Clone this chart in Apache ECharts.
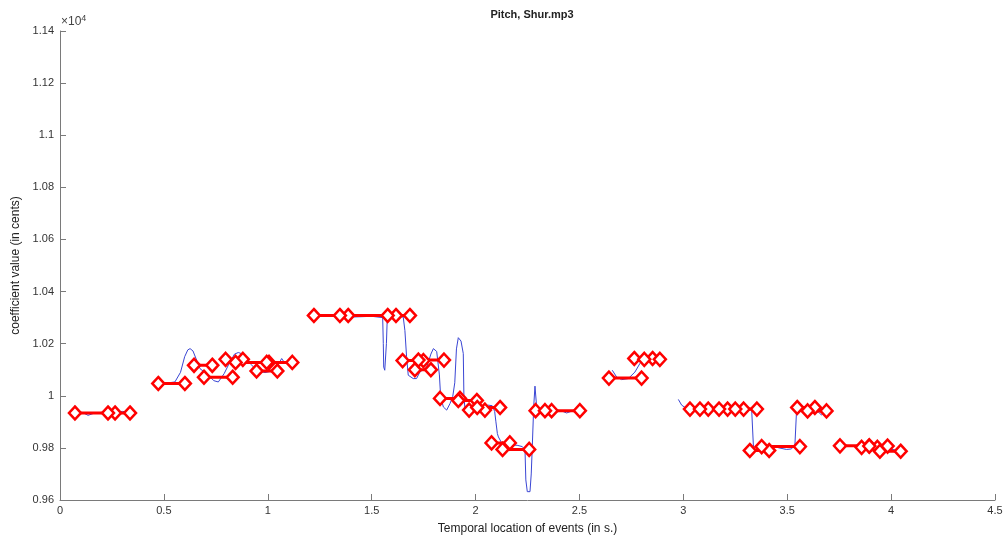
<!DOCTYPE html>
<html>
<head>
<meta charset="utf-8">
<script src="https://cdn.jsdelivr.net/npm/echarts@6/dist/echarts.min.js"></script>
<style>
  html, body { margin: 0; padding: 0; background: #fff; }
  #chart { width: 1008px; height: 540px; }
</style>
</head>
<body>
<div id="chart"></div>
<script>
// pitch curve (blue), null = break in the curve
var pitchTime = [
    0.070, 0.078, 0.090, 0.110, 0.135, 0.160, 0.200, 0.260, 0.300, 0.335, 0.40,
    0.497, 0.553, 0.580, 0.600, 0.615, 0.626, 0.640, 0.674, 0.714, 0.740, 0.762, 0.790, 0.818, 0.840,
    0.858, 0.880, 0.898, 0.920, 0.946, 0.987, 1.020, 1.043, 1.067, 1.083, 1.099, 1.115, 1.15,
    1.195, 1.211, 1.227, 1.300, 1.350, 1.400, 1.500, 1.553, 1.556, 1.558, 1.563, 1.568, 1.571, 1.575,
    1.600, 1.652, 1.660, 1.668, 1.676, 1.700, 1.716, 1.732, 1.765, 1.785, 1.797, 1.813, 1.826, 1.832,
    1.845, 1.861, 1.877, 1.890, 1.900, 1.908, 1.917, 1.930, 1.941, 1.944, 1.949, 1.990, 2.040, 2.061,
    2.080, 2.092, 2.098, 2.105, 2.110, 2.125, 2.150, 2.200, 2.225, 2.238, 2.242, 2.249, 2.262, 2.268,
    2.273, 2.280, 2.286, 2.294, 2.302, 2.342, 2.420, 2.438, 2.460, 2.494, 2.55,
    2.658, 2.679, 2.703, 2.735, 2.767, 2.791, 2.807, 2.850, 2.889, 2.93,
    2.976, 2.992, 3.016, 3.100, 3.200, 3.300, 3.329, 3.337, 3.345, 3.380, 3.417, 3.460, 3.497, 3.520,
    3.537, 3.545, 3.553, 3.600, 3.633, 3.665, 3.680, 3.72,
    3.754, 3.850, 3.950, 4.000, 4.046
];
var pitchCents = [
    9962, 9948, 9938, 9935, 9925, 9932, 9935, 9938, 9940, 9938, null,
    10047, 10053, 10090, 10150, 10176, 10181, 10172, 10104, 10079, 10058, 10053, 10085, 10130, 10160,
    10166, 10160, 10149, 10120, 10098, 10089, 10095, 10110, 10143, 10124, 10130, 10128, null,
    10315, 10322, 10304, 10306, 10303, 10302, 10305, 10300, 10200, 10110, 10098, 10105, 10200, 10298,
    10307, 10302, 10250, 10150, 10079, 10066, 10066, 10091, 10110, 10160, 10181, 10170, 10080, 9996,
    9957, 9945, 9970, 9996, 10050, 10180, 10223, 10210, 10162, 9996, 9951, 9955, 9960, 9964,
    9962, 9940, 9900, 9855, 9842, 9820, 9812, 9810, 9805, 9792, 9677, 9632, 9632, 9700,
    9804, 9960, 10037, 9957, 9932, 9938, 9940, 9934, 9940, 9942, null,
    10098, 10072, 10062, 10066, 10091, 10124, 10139, 10143, 10141, null,
    9986, 9964, 9951, 9950, 9948, 9947, 9945, 9811, 9792, 9800, 9811, 9800, 9794, 9796,
    9811, 9945, 9964, 9955, 9951, 9926, 9940, null,
    9808, 9805, 9800, 9795, 9788
];

// detected notes (red segments with diamond ends)
var noteStart = [
    0.072, 0.231, 0.473, 0.645, 0.693, 0.797, 0.845, 0.995, 0.946,
    1.222, 1.347, 1.577, 1.649, 1.725, 1.708, 1.829,
    1.917, 1.969, 2.008, 2.077, 2.130, 2.289, 2.334,
    2.642, 2.764, 2.812,
    3.032, 3.080, 3.172, 3.250, 3.320, 3.377, 3.548, 3.598,
    3.754, 3.858, 3.895, 3.946
];
var noteEnd = [
    0.265, 0.337, 0.601, 0.733, 0.831, 0.880, 1.006, 1.118, 1.046,
    1.387, 1.617, 1.684, 1.749, 1.848, 1.785, 1.925,
    2.006, 2.045, 2.118, 2.165, 2.258, 2.366, 2.502,
    2.799, 2.852, 2.887,
    3.120, 3.213, 3.290, 3.354, 3.413, 3.561, 3.633, 3.689,
    3.895, 3.934, 3.983, 4.046
];
var noteValue = [
    9934, 9934, 10047, 10117, 10071, 10140, 10128, 10128, 10095,
    10308, 10308, 10308, 10135, 10137, 10100, 9990,
    9982, 9945, 9955, 9819, 9794, 9943, 9943,
    10068, 10143, 10140,
    9949, 9949, 9949, 9949, 9790, 9805, 9955, 9942,
    9808, 9802, 9807, 9787
];

var xTicks = [0, 4.5, 0.5];
var yTicks = [9600, 11400, 200];

var chart = echarts.init(document.getElementById('chart'));

var pitchData = pitchTime.map(function (t, i) {
    return [t, pitchCents[i] === null ? '-' : pitchCents[i]];
});

var series = [{
    type: 'line',
    data: pitchData,
    showSymbol: false,
    connectNulls: false,
    lineStyle: { color: '#3a46d4', width: 1 },
    z: 2,
    silent: true
}];

noteStart.forEach(function (s, i) {
    series.push({
        type: 'line',
        data: [[s, noteValue[i]], [noteEnd[i], noteValue[i]]],
        symbol: 'diamond',
        symbolSize: [12, 13],
        showSymbol: true,
        lineStyle: { color: '#ff0000', width: 3 },
        itemStyle: { color: '#ffffff', borderColor: '#ff0000', borderWidth: 2.5 },
        z: 3,
        silent: true
    });
});

var axisGray = '#7a7a7a';
var labelColor = '#333333';
var font = 'Liberation Sans, Arial, Helvetica, sans-serif';

var option = {
    animation: false,
    backgroundColor: '#ffffff',
    title: {
        text: 'Pitch, Shur.mp3',
        left: 527,
        textAlign: 'center',
        top: 4,
        textStyle: { fontSize: 11, fontWeight: 'bold', color: '#222', fontFamily: font }
    },
    grid: { left: 60, right: 13, top: 31, bottom: 35, containLabel: false },
    xAxis: {
        type: 'value',
        min: xTicks[0], max: xTicks[1], interval: xTicks[2],
        name: 'Temporal location of events (in s.)',
        nameLocation: 'middle',
        nameGap: 23,
        nameTextStyle: { fontSize: 12, color: '#222', fontFamily: font },
        axisLine: { show: true, lineStyle: { color: axisGray, width: 1 } },
        axisTick: { show: true, inside: true, length: 6, lineStyle: { color: axisGray } },
        axisLabel: { fontSize: 11, color: labelColor, margin: 5, fontFamily: font },
        splitLine: { show: false }
    },
    yAxis: {
        type: 'value',
        min: yTicks[0], max: yTicks[1], interval: yTicks[2],
        name: 'coefficient value (in cents)',
        nameLocation: 'middle',
        nameGap: 35,
        nameTextStyle: { fontSize: 12, color: '#222', fontFamily: font },
        axisLine: { show: true, lineStyle: { color: axisGray, width: 1 } },
        axisTick: { show: true, inside: true, length: 6, lineStyle: { color: axisGray } },
        axisLabel: {
            fontSize: 11, color: labelColor, margin: 6, fontFamily: font,
            formatter: function (v) { return String(+(v / 10000).toFixed(2)); }
        },
        splitLine: { show: false }
    },
    graphic: [{
        type: 'text',
        left: 61,
        top: 14,
        style: {
            text: '{a|×10}{b|4}',
            rich: {
                a: { fontSize: 12, fill: '#444', fontFamily: font },
                b: { fontSize: 9, fill: '#444', fontFamily: font, verticalAlign: 'top', padding: [0, 0, 7, 0] }
            }
        }
    }],
    series: series
};

chart.setOption(option);
</script>
</body>
</html>
